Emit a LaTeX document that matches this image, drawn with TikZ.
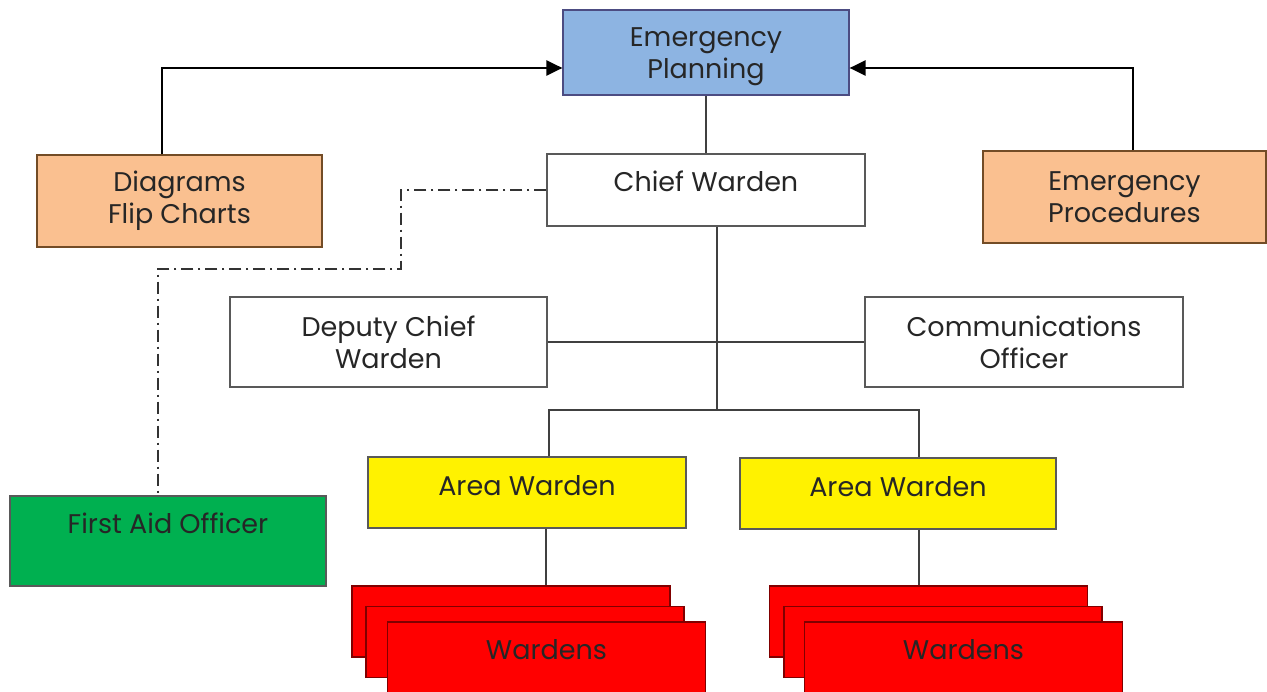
\documentclass[tikz,border=0pt]{standalone}
\usepackage{fontspec}
\setmainfont{Poppins}
\usetikzlibrary{arrows.meta, arrows}

\definecolor{planblue}{HTML}{8DB4E2}
\definecolor{docorange}{HTML}{FAC090}
\definecolor{aidgreen}{HTML}{00B050}

\begin{document}
\begin{tikzpicture}[x=1pt, y=-1pt,
    box/.style={draw=black!65, line width=1.2pt, text=black!85, align=center, inner sep=0pt,
      font=\fontsize{27}{32}\selectfont},
    lift/.style={text height=19pt, text depth=#1},
    link/.style={black!75, line width=1.3pt},
    feed/.style={black, line width=2.4pt, -{Triangle[length=16pt,width=15pt]}},
    aid/.style={black!80, line width=1.5pt, dash pattern=on 12pt off 5pt on 2pt off 5pt}]
    \useasboundingbox (0,0) rectangle (1267,692);

    \node[box, fill=planblue, draw=blue!30!black!70, text height=53pt, text depth=0pt, minimum width=286pt, minimum height=85pt] (plan) at (706,52.5) {Emergency\\Planning};
    \node[box, fill=docorange, draw=brown!60!black, minimum width=285pt, minimum height=92pt] (diag) at (179.5,201) {Diagrams\\Flip Charts};
    \node[box, fill=docorange, draw=brown!60!black, minimum width=283pt, minimum height=92pt] (proc) at (1124.5,197) {Emergency\\Procedures};
    \node[box, fill=white, lift=16pt, minimum width=318pt, minimum height=72pt] (chief) at (706,190) {Chief Warden};
    \node[box, fill=white, minimum width=317pt, minimum height=90pt] (deputy) at (388.5,342) {Deputy Chief\\Warden};
    \node[box, fill=white, minimum width=318pt, minimum height=90pt] (comms) at (1024,342) {Communications\\Officer};
    \node[box, fill=yellow, lift=13pt, minimum width=318pt, minimum height=71pt] (area1) at (527,492.5) {Area Warden};
    \node[box, fill=yellow, lift=13pt, minimum width=316pt, minimum height=71pt] (area2) at (898,493.5) {Area Warden};
    \node[box, fill=aidgreen, lift=34pt, minimum width=316pt, minimum height=90pt] (firstaid) at (168,541) {First Aid Officer};

    % warden stacks, back to front
    \node[box, fill=red, draw=red!50!black, minimum width=318pt, minimum height=71pt] (crewA1) at (511,621.5) {};
    \node[box, fill=red, draw=red!50!black, minimum width=318pt, minimum height=71pt] (crewA2) at (525,642) {};
    \node[box, fill=red, draw=red!50!black, lift=15pt, minimum width=318pt, minimum height=71pt] (crewA3) at (546.5,657.5) {Wardens};
    \node[box, fill=red, draw=red!50!black, minimum width=318pt, minimum height=71pt] (crewB1) at (928.5,621.5) {};
    \node[box, fill=red, draw=red!50!black, minimum width=318pt, minimum height=71pt] (crewB2) at (943,642) {};
    \node[box, fill=red, draw=red!50!black, lift=15pt, minimum width=318pt, minimum height=71pt] (crewB3) at (963.5,657.5) {Wardens};

    \coordinate (fork) at (717,410);
    \coordinate (bend) at (401,269);

    \draw[feed] ([xshift=-17.5pt]diag.north) |- ([yshift=-15.5pt]plan.west);
    \draw[feed] ([xshift=8.5pt]proc.north) |- ([yshift=-15.5pt]plan.east);
    \draw[link] (plan.south) -- (chief.north);
    \draw[link] (chief.south -| fork) -- (fork);
    \draw[link] (deputy.east) -- (comms.west);
    \draw[link] ([xshift=22pt]area1.north) |- (fork) -| ([xshift=21pt]area2.north);
    \draw[link] ([xshift=19pt]area1.south) -- ([xshift=19pt]area1.south |- crewA1.north);
    \draw[link] ([xshift=21pt]area2.south) -- ([xshift=21pt]area2.south |- crewB1.north);
    \draw[aid] (chief.west) -| (bend) -| ([xshift=-10pt]firstaid.north);
\end{tikzpicture}
\end{document}
